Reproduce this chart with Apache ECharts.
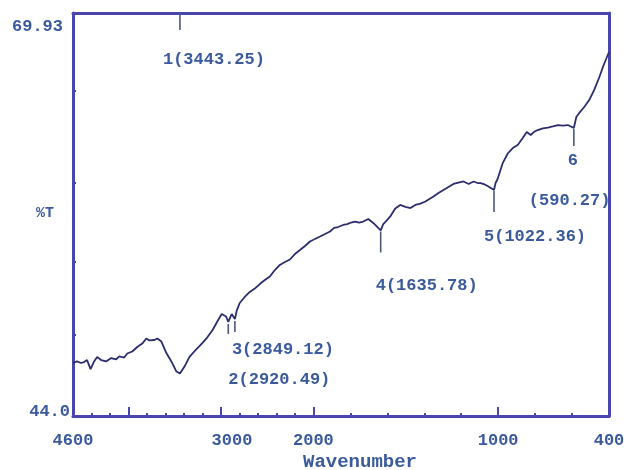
<!DOCTYPE html>
<html>
<head>
<meta charset="utf-8">
<script src="https://cdn.jsdelivr.net/npm/echarts@6/dist/echarts.min.js"></script>
<style>
  html, body { margin: 0; padding: 0; background: #ffffff; }
  #chart { width: 630px; height: 470px; }
</style>
</head>
<body>
<div id="chart"></div>
<script>
// FTIR spectrum: wavenumber (cm-1) and transmittance (%T)
const wavenumber = [4600, 4557, 4513, 4480, 4448, 4410, 4372, 4339, 4296, 4242,
  4187, 4133, 4100, 4046, 4013, 3959, 3905, 3851, 3807, 3774,
  3720, 3688, 3644, 3590, 3536, 3481, 3443.25, 3394, 3340, 3264,
  3199, 3145, 3090, 3036, 2992, 2944, 2920.49, 2884, 2849.12, 2830,
  2797, 2743, 2688, 2634, 2580, 2525, 2471, 2417, 2363, 2308,
  2254, 2200, 2145, 2091, 2037, 2000, 1991, 1964, 1937, 1910,
  1888, 1866, 1839, 1817, 1796, 1774, 1752, 1730, 1703, 1676,
  1660, 1635.78, 1622, 1605, 1584, 1557, 1530, 1502, 1475, 1448,
  1421, 1394, 1372, 1350, 1323, 1296, 1269, 1242, 1215, 1187,
  1160, 1133, 1111, 1095, 1073, 1057, 1022.36, 1014, 1003, 976,
  948, 921, 894, 867, 845, 824, 807, 786, 758, 731,
  704, 677, 650, 623, 590.27, 577, 561, 534, 507, 480,
  452, 431, 400];

const transmittance = [47.41, 47.51, 47.41, 47.47, 47.60, 47.02, 47.51, 47.80, 47.60, 47.51,
  47.73, 47.64, 47.83, 47.76, 48.02, 48.15, 48.44, 48.66, 48.99, 48.86,
  48.89, 48.99, 48.79, 48.05, 47.51, 46.86, 46.73, 47.18, 47.80, 48.31,
  48.70, 49.08, 49.53, 50.11, 50.56, 50.40, 50.05, 50.56, 50.24, 50.76,
  51.27, 51.66, 51.98, 52.20, 52.49, 52.75, 52.98, 53.39, 53.72, 53.91,
  54.07, 54.42, 54.68, 54.94, 55.23, 55.34, 55.39, 55.55, 55.71, 55.87,
  56.10, 56.16, 56.29, 56.35, 56.45, 56.51, 56.45, 56.51, 56.68, 56.42,
  56.23, 55.94, 56.35, 56.55, 56.84, 57.35, 57.58, 57.45, 57.38, 57.58,
  57.67, 57.80, 57.96, 58.12, 58.35, 58.54, 58.73, 58.93, 59.02, 59.09,
  58.93, 59.09, 58.99, 58.99, 58.90, 58.80, 58.54, 58.99, 59.25, 60.25,
  60.89, 61.24, 61.44, 61.89, 62.27, 62.08, 62.27, 62.40, 62.50, 62.56,
  62.63, 62.72, 62.69, 62.72, 62.53, 63.24, 63.50, 63.88, 64.33, 64.98,
  65.81, 66.52, 67.42];

// Labelled absorption peaks
const peakNumbers = ['1', '2', '3', '4', '5', '6'];
const peakWavenumbers = [3443.25, 2920.49, 2849.12, 1635.78, 1022.36, 590.27];

// Axis ranges and tick labels
const yMin = 44.0;
const yMax = 69.93;
const yTickValues = [49.2, 53.9, 59.0, 64.9];
const highRange = [2000, 4600];   // compressed part of the wavenumber axis
const lowRange = [400, 2000];     // expanded part of the wavenumber axis
const highLabels = [4600, 3000];
const lowLabels = [2000, 1000, 400];
const highMajorTicks = [3000, 4000];
const lowMajorTicks = [2000, 1000];
const xTitle = 'Wavenumber';
const yTitle = '%T';

const frameColor = '#4a45ad';
const lineColor = '#2c2d6c';
const textColor = '#3a5a9c';
const markColor = '#4c5878';
const monoFont = '"Liberation Mono", "DejaVu Sans Mono", monospace';

const pairs = wavenumber.map((w, i) => [w, transmittance[i]]);
const highData = pairs.filter(p => p[0] >= 2000);
const lowData = pairs.filter(p => p[0] <= 2000);

function peakValue(w) {
  return transmittance[wavenumber.indexOf(w)];
}

// Marker and label placement per peak, in pixels relative to the mark point
const peakLayout = [
  { gap: 0, len: 17, texts: [{ dx: -17, dy: 47, full: true }] },
  { gap: 2, len: 10, texts: [{ dx: 0, dy: 58, full: true }] },
  { gap: 2, len: 11, texts: [{ dx: -3, dy: 31, full: true }] },
  { gap: 1, len: 21, texts: [{ dx: -5, dy: 55, full: true }] },
  { gap: 1, len: 21, texts: [{ dx: -10, dy: 47, full: true }] },
  { gap: 1, len: 17, texts: [{ dx: -6, dy: 33, num: true }, { dx: -45, dy: 73, val: true }] }
];

const peakData = peakWavenumbers.map((w, i) => [w, i === 0 ? yMax : peakValue(w), i]);

function renderPeak(params, api) {
  const i = api.value(2);
  const w = peakWavenumbers[i];
  const p = api.coord([api.value(0), api.value(1)]);
  const lay = peakLayout[i];
  const children = [{
    type: 'line',
    shape: { x1: p[0], y1: p[1] + lay.gap, x2: p[0], y2: p[1] + lay.gap + lay.len },
    style: { stroke: markColor, lineWidth: 1.6 }
  }];
  lay.texts.forEach(t => {
    let s;
    if (t.full) s = peakNumbers[i] + '(' + w.toFixed(2) + ')';
    else if (t.num) s = peakNumbers[i];
    else s = '(' + w.toFixed(2) + ')';
    children.push({
      type: 'text',
      style: {
        text: s, x: p[0] + t.dx, y: p[1] + t.dy,
        fill: textColor, font: 'bold 17px ' + monoFont,
        align: 'left', verticalAlign: 'middle'
      }
    });
  });
  return { type: 'group', children: children };
}

const labelStyle = { color: textColor, fontFamily: monoFont, fontWeight: 'bold', fontSize: 17 };

function bottomAxis(gridIndex, range, labels) {
  return {
    type: 'value', gridIndex: gridIndex, min: range[0], max: range[1], interval: 200,
    inverse: true, position: 'bottom',
    axisLine: { show: true, onZero: false, lineStyle: { color: frameColor, width: 3 } },
    axisTick: { show: true, inside: true, length: 3, lineStyle: { color: frameColor, width: 2 } },
    splitLine: { show: false },
    axisLabel: Object.assign({
      show: true, margin: 16, customValues: labels,
      formatter: v => v === 3000 ? '{s|3000}' : String(v),
      rich: { s: Object.assign({ padding: [0, 0, 0, 22] }, labelStyle) }
    }, labelStyle)
  };
}

function majorTickAxis(gridIndex, range, ticks) {
  return {
    type: 'value', gridIndex: gridIndex, min: range[0], max: range[1], interval: 1000,
    inverse: true, position: 'bottom',
    axisLine: { show: false },
    axisTick: { show: true, inside: true, length: 9, customValues: ticks, lineStyle: { color: frameColor, width: 2 } },
    axisLabel: { show: false },
    splitLine: { show: false }
  };
}

function topAxis(gridIndex, range) {
  return {
    type: 'value', gridIndex: gridIndex, min: range[0], max: range[1],
    inverse: true, position: 'top',
    axisLine: { show: true, onZero: false, lineStyle: { color: frameColor, width: 3 } },
    axisTick: { show: false }, axisLabel: { show: false }, splitLine: { show: false }
  };
}

const chart = echarts.init(document.getElementById('chart'), null, { renderer: 'canvas' });

chart.setOption({
  animation: false,
  backgroundColor: '#ffffff',
  title: [
    {
      text: xTitle, left: 298, top: 448,
      textStyle: { color: textColor, fontFamily: monoFont, fontWeight: 'bold', fontSize: 19 }
    },
    {
      text: yTitle, left: 31, top: 201,
      textStyle: { color: textColor, fontFamily: monoFont, fontWeight: 'bold', fontSize: 15 }
    }
  ],
  grid: [
    { left: 73, top: 13, width: 240.4, height: 403, containLabel: false, outerBoundsMode: 'none' },
    { left: 313.4, top: 13, width: 295.6, height: 403, containLabel: false, outerBoundsMode: 'none' }
  ],
  xAxis: [
    bottomAxis(0, highRange, highLabels),
    majorTickAxis(0, highRange, highMajorTicks),
    topAxis(0, highRange),
    bottomAxis(1, lowRange, lowLabels),
    majorTickAxis(1, lowRange, lowMajorTicks),
    topAxis(1, lowRange)
  ],
  yAxis: [
    {
      type: 'value', gridIndex: 0, min: yMin, max: yMax, position: 'left',
      axisLine: { show: true, onZero: false, lineStyle: { color: frameColor, width: 3 } },
      axisTick: { show: true, inside: true, length: 3, customValues: yTickValues, lineStyle: { color: frameColor, width: 2 } },
      splitLine: { show: false },
      axisLabel: Object.assign({
        show: true, margin: 3, customValues: [yMin, yMax],
        formatter: v => v === yMax ? '{t|' + yMax.toFixed(2) + '}' : '{b|' + yMin.toFixed(1) + '}',
        rich: {
          t: Object.assign({ padding: [28, 7, 0, 0] }, labelStyle),
          b: Object.assign({ padding: [0, 0, 8, 0] }, labelStyle)
        }
      }, labelStyle)
    },
    {
      type: 'value', gridIndex: 1, min: yMin, max: yMax, position: 'right',
      axisLine: { show: true, onZero: false, lineStyle: { color: frameColor, width: 3 } },
      axisTick: { show: false }, axisLabel: { show: false }, splitLine: { show: false }
    }
  ],
  series: [
    {
      type: 'line', xAxisIndex: 0, yAxisIndex: 0, data: highData,
      showSymbol: false, lineStyle: { color: lineColor, width: 1.8 }, z: 3
    },
    {
      type: 'line', xAxisIndex: 3, yAxisIndex: 1, data: lowData,
      showSymbol: false, lineStyle: { color: lineColor, width: 1.8 }, z: 3
    },
    {
      type: 'custom', xAxisIndex: 0, yAxisIndex: 0, renderItem: renderPeak,
      data: peakData.filter(d => d[0] >= 2000), clip: false, z: 4
    },
    {
      type: 'custom', xAxisIndex: 3, yAxisIndex: 1, renderItem: renderPeak,
      data: peakData.filter(d => d[0] < 2000), clip: false, z: 4
    }
  ]
});
</script>
</body>
</html>
